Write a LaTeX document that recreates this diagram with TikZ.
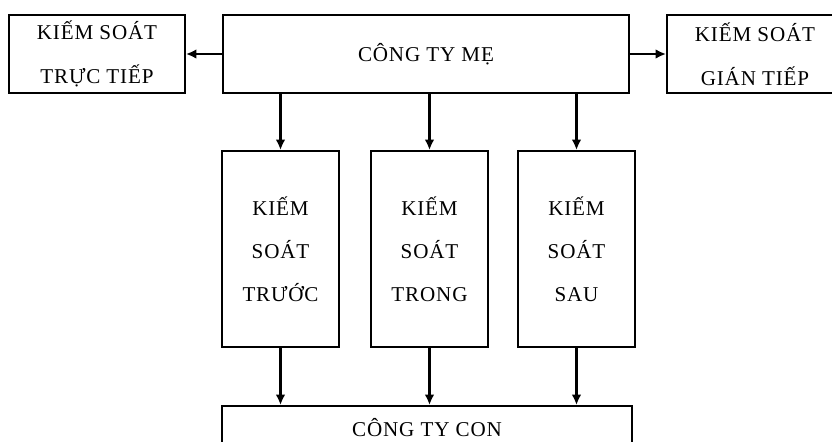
\documentclass[tikz,border=0pt]{standalone}
\usepackage{fontspec}
\setmainfont{Liberation Serif}[LetterSpace=4]
\usetikzlibrary{arrows.meta, positioning}

\tikzset{
    % Box styles - plain black frames
    company/.style={
        rectangle,
        draw=black,
        line width=1.4pt,
        minimum width=10.15cm,
        minimum height=1.95cm,
        align=center,
        font=\fontsize{15}{31}\selectfont
    },
    control/.style={
        rectangle,
        draw=black,
        line width=1.4pt,
        minimum width=4.4cm,
        minimum height=1.95cm,
        align=center,
        font=\fontsize{15}{31}\selectfont
    },
    stage/.style={
        rectangle,
        draw=black,
        line width=1.4pt,
        minimum width=2.925cm,
        minimum height=4.9cm,
        align=center,
        font=\fontsize{15}{30.5}\selectfont
    },
    % Arrow style - straight lines only
    arrow/.style={
        -{Latex[length=2.6mm, width=2.4mm]},
        line width=1.5pt,
        draw=black
    }
}

\begin{document}
\begin{tikzpicture}
    \useasboundingbox (0,0) rectangle (20.8,-11.05);
    \clip (0,0) rectangle (20.8,-11.05);

    % top row
    \node[company] (me) at (10.65,-1.35) {CÔNG TY MẸ};
    \node[control] (ttiep) at (2.425,-1.35) {KIẾM SOÁT\\TRỰC TIẾP};
    \node[control] (gtiep) at (18.875,-1.35) {KIẾM SOÁT\\GIÁN TIẾP};

    % control stages
    \node[stage] (truoc) at (7.0125,-6.225) {KIẾM\\SOÁT\\TRƯỚC};
    \node[stage] (trong) at (10.7375,-6.225) {KIẾM\\SOÁT\\TRONG};
    \node[stage] (sau) at (14.4125,-6.225) {KIẾM\\SOÁT\\SAU};

    % runs past the lower edge
    \node[company, minimum width=10.25cm, minimum height=1.1cm] (con) at (10.675,-10.7) {CÔNG TY CON};

    \draw[arrow] (me) -- (ttiep);
    \draw[arrow] (me) -- (gtiep);
    \draw[arrow] (me.south -| truoc) -- (truoc);
    \draw[arrow] (me.south -| trong) -- (trong);
    \draw[arrow] (me.south -| sau) -- (sau);
    \draw[arrow] (truoc) -- (truoc |- con.north);
    \draw[arrow] (trong) -- (trong |- con.north);
    \draw[arrow] (sau) -- (sau |- con.north);
\end{tikzpicture}
\end{document}
